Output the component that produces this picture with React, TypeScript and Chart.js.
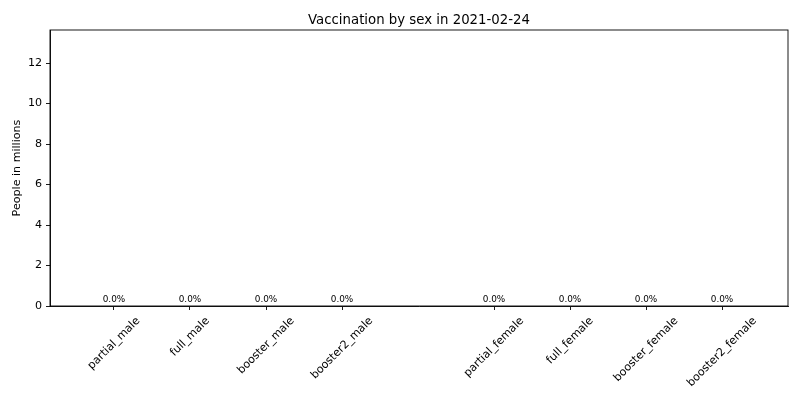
import { useEffect, useRef } from "react"
import { Chart, registerables } from "chart.js"

Chart.register(...registerables)

// values
const maleCategories = ["partial_male", "full_male", "booster_male", "booster2_male"]
const femaleCategories = ["partial_female", "full_female", "booster_female", "booster2_female"]
const maleValues = [0, 0, 0, 0]
const femaleValues = [0, 0, 0, 0]
const malePercent = [0.0, 0.0, 0.0, 0.0]
const femalePercent = [0.0, 0.0, 0.0, 0.0]
const yTicks = [0, 2, 4, 6, 8, 10, 12]
const yMax = 13.63
const chartTitle = "Vaccination by sex in 2021-02-24"
const yTitle = "People in millions"

const FONT = "'DejaVu Sans', sans-serif"
const TICK_SIZE = 11.1

export default function App() {
  const chartRef = useRef<HTMLCanvasElement>(null)
  const chartInstance = useRef<Chart | null>(null)

  useEffect(() => {
    if (!chartRef.current) return

    const labels = [...maleCategories, ...femaleCategories]
    // one empty slot between the male and female groups
    const xPos = [
      ...maleCategories.map((_, i) => i),
      ...femaleCategories.map((_, i) => i + maleCategories.length + 1),
    ]
    const values = [...maleValues, ...femaleValues]
    const percents = [...malePercent, ...femalePercent]

    const decor = {
      id: "decor",
      afterDraw(chart: any) {
        const { ctx, chartArea: a } = chart
        const xScale = chart.scales.x
        ctx.save()

        // frame
        ctx.strokeStyle = "#000"
        ctx.lineWidth = 0.9
        ctx.strokeRect(a.left, a.top, a.right - a.left, a.bottom - a.top)

        // title
        ctx.fillStyle = "#000"
        ctx.font = `13.3px ${FONT}`
        ctx.textAlign = "center"
        ctx.textBaseline = "alphabetic"
        ctx.fillText(chartTitle, (a.left + a.right) / 2, 23.5)

        // y title
        ctx.save()
        ctx.font = `${TICK_SIZE}px ${FONT}`
        ctx.translate(17, (a.top + a.bottom) / 2)
        ctx.rotate(-Math.PI / 2)
        ctx.textBaseline = "middle"
        ctx.textAlign = "center"
        ctx.fillText(yTitle, 0, 0)
        ctx.restore()

        // bar labels
        const meta = chart.getDatasetMeta(0)
        ctx.font = `8.9px ${FONT}`
        ctx.textAlign = "center"
        ctx.textBaseline = "alphabetic"
        meta.data.forEach((el: any, i: number) => {
          ctx.fillText(percents[i].toFixed(1) + "%", el.x, el.y - 4)
        })

        // x tick labels, rotated 45deg with centred bounding box
        ctx.font = `${TICK_SIZE}px ${FONT}`
        const top = a.bottom + 8.5
        const h = TICK_SIZE * 1.17
        labels.forEach((lab, i) => {
          const w = ctx.measureText(lab).width
          const half = ((w + h) * Math.SQRT1_2) / 2
          const cx = xScale.getPixelForValue(xPos[i])
          ctx.save()
          ctx.translate(cx, top + half)
          ctx.rotate(-Math.PI / 4)
          ctx.textAlign = "center"
          ctx.textBaseline = "middle"
          ctx.fillText(lab, 0, 0)
          ctx.restore()
        })
        ctx.restore()
      },
    }

    if (chartInstance.current) {
      chartInstance.current.destroy()
    }

    const ctx = chartRef.current.getContext("2d")
    if (ctx) {
      chartInstance.current = new Chart(ctx, {
        type: "bar",
        data: {
          datasets: [
            {
              data: xPos.map((x, i) => ({ x, y: values[i] })),
              backgroundColor: "#1f77b4",
              borderWidth: 0,
              barPercentage: 0.8,
              categoryPercentage: 1,
            },
          ],
        },
        options: {
          responsive: true,
          maintainAspectRatio: false,
          animation: false,
          layout: { padding: { top: 30, right: 12, left: 0, bottom: 0 } },
          plugins: {
            legend: { display: false },
            title: { display: false },
            tooltip: { enabled: false },
          },
          scales: {
            x: {
              type: "linear",
              offset: false,
              min: -0.842,
              max: 8.868,
              afterFit: (s: any) => {
                s.height = 94
              },
              afterBuildTicks: (s: any) => {
                s.ticks = xPos.map((v) => ({ value: v }))
              },
              grid: {
                offset: false,
                drawOnChartArea: false,
                drawTicks: true,
                tickLength: 4,
                color: "#000",
                lineWidth: 0.9,
              },
              border: { color: "#000", width: 0.9 },
              ticks: { display: false, autoSkip: false },
            },
            y: {
              min: 0,
              max: yMax,
              afterFit: (s: any) => {
                s.width = 50
              },
              afterBuildTicks: (s: any) => {
                s.ticks = yTicks.map((v) => ({ value: v }))
              },
              grid: {
                drawOnChartArea: false,
                drawTicks: true,
                tickLength: 4,
                color: "#000",
                lineWidth: 0.9,
              },
              border: { color: "#000", width: 0.9 },
              ticks: {
                color: "#000",
                padding: 4,
                autoSkip: false,
                font: { family: FONT, size: TICK_SIZE },
              },
            },
          },
        },
        plugins: [decor],
      })
    }

    return () => {
      if (chartInstance.current) {
        chartInstance.current.destroy()
        chartInstance.current = null
      }
    }
  }, [])

  return (
    <div style={{ position: "fixed", top: 0, left: 0, width: 800, height: 400, background: "#fff" }}>
      <canvas ref={chartRef} />
    </div>
  )
}
